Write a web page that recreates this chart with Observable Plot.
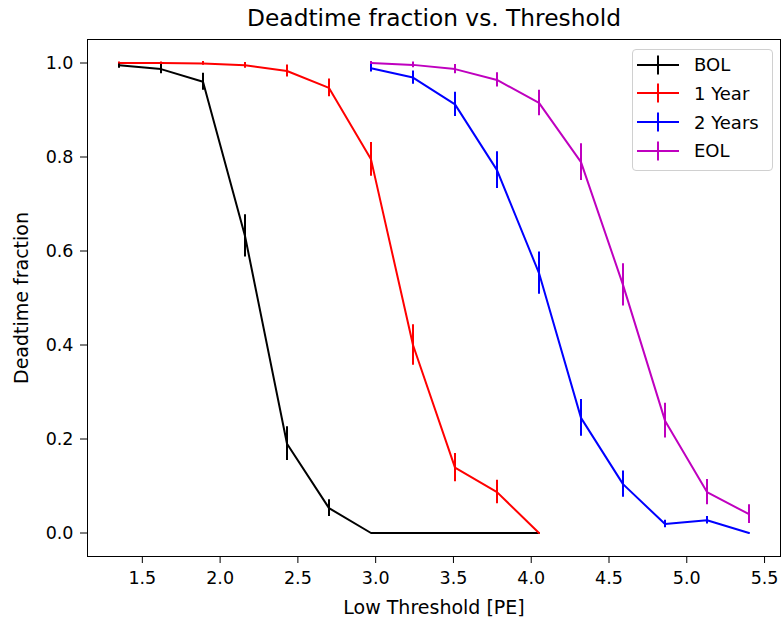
<!DOCTYPE html>
<html>
<head>
<meta charset="utf-8">
<script src="https://cdn.jsdelivr.net/npm/d3@7"></script>
<script src="https://cdn.jsdelivr.net/npm/@observablehq/plot@0.6"></script>
<style>
  body { margin: 0; background: #fff; font-family: "DejaVu Sans", sans-serif; }
  #wrap { position: relative; width: 781px; height: 618px; }
  #legend { position: absolute; left: 632px; top: 49px; width: 139px; height: 120px;
    border: 1px solid #d0d0d0; border-radius: 4px; background: rgba(255,255,255,0.8);
    font-family: "DejaVu Sans", sans-serif; font-size: 18px; color: #000; }
  .item { position: absolute; left: 4px; height: 20px; display: flex; align-items: center; white-space: nowrap; }
  .item svg { margin-right: 15px; flex: none; }
</style>
</head>
<body>
<div id="wrap"><div id="legend"></div></div>
<script>
const seriesNames = ["BOL", "1 Year", "2 Years", "EOL"];
const seriesColors = ["#000000", "#ff0000", "#0000ff", "#bf00bf"];

const bolX = [1.35, 1.62, 1.89, 2.16, 2.43, 2.70, 2.97, 3.24, 3.51, 3.78, 4.05];
const bolY = [0.995, 0.987, 0.960, 0.632, 0.190, 0.053, 0, 0, 0, 0, 0];
const bolErr = [0.006, 0.010, 0.018, 0.045, 0.036, 0.018, 0, 0, 0, 0, 0];

const yearX = [1.35, 1.62, 1.89, 2.16, 2.43, 2.70, 2.97, 3.24, 3.51, 3.78, 4.05];
const yearY = [1.000, 1.000, 0.999, 0.995, 0.983, 0.947, 0.795, 0.400, 0.139, 0.087, 0];
const yearErr = [0.002, 0.002, 0.004, 0.006, 0.013, 0.019, 0.036, 0.043, 0.030, 0.025, 0];

const twoX = [2.97, 3.24, 3.51, 3.78, 4.05, 4.32, 4.59, 4.86, 5.13, 5.40];
const twoY = [0.989, 0.969, 0.912, 0.772, 0.553, 0.245, 0.104, 0.019, 0.027, 0.000];
const twoErr = [0.008, 0.014, 0.026, 0.039, 0.045, 0.039, 0.028, 0.008, 0.008, 0];

const eolX = [2.97, 3.24, 3.51, 3.78, 4.05, 4.32, 4.59, 4.86, 5.13, 5.40];
const eolY = [1.000, 0.996, 0.987, 0.964, 0.915, 0.789, 0.528, 0.239, 0.087, 0.040];
const eolErr = [0.003, 0.006, 0.010, 0.015, 0.027, 0.039, 0.045, 0.037, 0.027, 0.020];

const xTicks = [1.5, 2.0, 2.5, 3.0, 3.5, 4.0, 4.5, 5.0, 5.5];
const yTicks = [0.0, 0.2, 0.4, 0.6, 0.8, 1.0];

const allX = [bolX, yearX, twoX, eolX];
const allY = [bolY, yearY, twoY, eolY];
const allE = [bolErr, yearErr, twoErr, eolErr];

const data = [];
seriesNames.forEach((s, i) => {
  allX[i].forEach((x, j) => data.push({series: s, x, y: allY[i][j], e: allE[i][j]}));
});

const chart = Plot.plot({
  width: 781,
  height: 618,
  marginLeft: 87,
  marginRight: 1,
  marginTop: 39,
  marginBottom: 62,
  style: {fontFamily: "DejaVu Sans, sans-serif", fontSize: "17.5px", color: "#000", background: "#fff"},
  x: {domain: [1.1475, 5.6025]},
  y: {domain: [-0.05, 1.05]},
  color: {domain: seriesNames, range: seriesColors},
  marks: [
    Plot.frame({stroke: "#000", strokeWidth: 1}),
    Plot.axisX({ticks: xTicks, tickFormat: d => d.toFixed(1), tickSize: 7, tickPadding: 8,
      label: null, fontSize: 17.5}),
    Plot.axisX({ticks: [], tickSize: 0,
      label: "Low Threshold [PE]", labelAnchor: "center", labelArrow: "none", labelOffset: 57,
      fontSize: 19}),
    Plot.axisY({ticks: yTicks, tickFormat: d => d.toFixed(1), tickSize: 7, tickPadding: 7,
      label: null, fontSize: 17.5}),
    Plot.axisY({ticks: [], tickSize: 0,
      label: "Deadtime fraction", labelAnchor: "center", labelArrow: "none", labelOffset: 73,
      fontSize: 19}),
    Plot.line(data, {x: "x", y: "y", z: "series", stroke: "series", strokeWidth: 2}),
    Plot.ruleX(data.filter(d => d.e > 0), {x: "x", y1: d => d.y - d.e, y2: d => d.y + d.e,
      stroke: "series", strokeWidth: 2}),
    Plot.text(["Deadtime fraction vs. Threshold"], {frameAnchor: "top", lineAnchor: "middle", dy: -20.5,
      fontSize: 23.3, fill: "#000"})
  ]
});
document.getElementById("wrap").prepend(chart);

// legend
const legend = document.getElementById("legend");
seriesNames.forEach((s, i) => {
  const div = document.createElement("div");
  div.className = "item";
  div.style.top = (4.5 + i * 28.8) + "px";
  div.innerHTML = `<svg width="42" height="20"><line x1="0" y1="10" x2="42" y2="10" stroke="${seriesColors[i]}" stroke-width="2"/><line x1="21" y1="0.5" x2="21" y2="19.5" stroke="${seriesColors[i]}" stroke-width="2"/></svg><span>${s}</span>`;
  legend.appendChild(div);
});
</script>
</body>
</html>
